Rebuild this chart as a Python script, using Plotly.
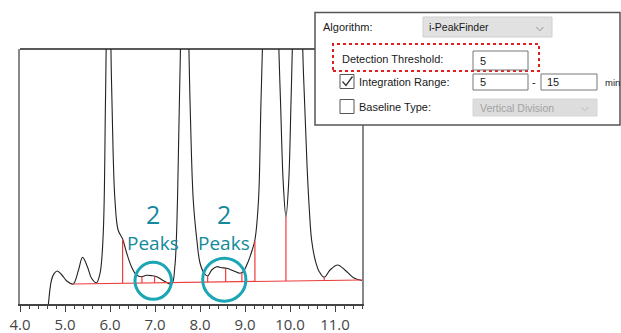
import plotly.graph_objects as go
import numpy as np

# ---------------- data ----------------
rt = [4.62, 4.70, 4.76, 4.83, 4.93, 5.04, 5.18, 5.30, 5.39, 5.50, 5.59, 5.70,
      5.78, 5.85, 5.90, 5.965, 6.03, 6.07, 6.11, 6.18, 6.28, 6.37, 6.48, 6.59,
      6.70, 6.81, 6.93, 7.04, 7.19, 7.37, 7.44, 7.50, 7.55, 7.665, 7.78, 7.85,
      7.93, 8.00, 8.09, 8.17, 8.26, 8.37, 8.48, 8.59, 8.74, 8.89, 8.96, 9.07,
      9.16, 9.22, 9.30, 9.36, 9.565, 9.78, 9.85, 9.91, 9.97, 10.03, 10.16,
      10.30, 10.38, 10.43, 10.48, 10.56, 10.65, 10.76, 10.89, 11.06, 11.22,
      11.41, 11.60]
signal = [-6, 24, 30.7, 33, 29, 23, 20, 34, 46.7, 37, 25.7, 21.3,
          31, 71, 204, 400, 230, 150, 104, 74, 65, 51, 37, 29,
          27.3, 28.7, 28.3, 27.3, 23.3, 20, 37, 104, 220, 420, 200, 104,
          64, 41, 31, 28, 34, 37.3, 36.3, 35.7, 33.3, 30.7, 32.3, 42.3,
          54, 64, 104, 210, 480, 215, 121, 87.3, 121, 215, 420,
          230, 137, 94, 64, 44, 32.3, 26.7, 34, 39, 34,
          26.3, 23.5]

base_rt = [5.18, 11.6]
base_sig = [20, 24]

drop_rt = [5.70, 6.28, 6.71, 6.99, 8.17, 8.57, 8.93, 9.22, 9.91, 10.76]
drop_top = [21.3, 64.7, 27.3, 27.5, 28, 35, 31, 63, 87.5, 26.7]

tick_vals = [4, 5, 6, 7, 8, 9, 10, 11]
tick_text = ["4.0", "5.0", "6.0", "7.0", "8.0", "9.0", "10.0", "11.0"]

groups_rt = [6.96, 8.54]          # centres of the two circled groups
groups_sig = [23.2, 24.3]
groups_rx = [0.405, 0.48]
groups_ry = [18.5, 21.5]
groups_count = ["2", "2"]

# ---------------- figure ----------------
W, H = 621, 333
ML, MR, MT, MB = 20, 259, 49, 29
PW, PH = W - ML - MR, H - MT - MB

def P(xpx, ypx):
    return (xpx - ML) / PW, (H - MB - ypx) / PH

RED = "#EE3B3B"
TEAL = "#1AA6B4"
TEAL_TXT = "#13899B"

fig = go.Figure()

fig.add_trace(go.Scatter(x=rt, y=signal, mode="lines",
                         line=dict(color="#222222", width=1.1, shape="spline"),
                         hoverinfo="skip", showlegend=False))

fig.add_trace(go.Scatter(x=base_rt, y=base_sig, mode="lines",
                         line=dict(color=RED, width=1.2),
                         hoverinfo="skip", showlegend=False))

dx, dy = [], []
for xv, top in zip(drop_rt, drop_top):
    bottom = float(np.interp(xv, base_rt, base_sig))
    dx += [xv, xv, None]
    dy += [bottom, top, None]
fig.add_trace(go.Scatter(x=dx, y=dy, mode="lines",
                         line=dict(color=RED, width=1.2),
                         hoverinfo="skip", showlegend=False))

shapes = []
annotations = []

# circles + labels
for cx, cy, rx, ry, n in zip(groups_rt, groups_sig, groups_rx, groups_ry, groups_count):
    shapes.append(dict(type="circle", xref="x", yref="y",
                       x0=cx - rx, x1=cx + rx, y0=cy - ry, y1=cy + ry,
                       line=dict(color=TEAL, width=3), layer="above"))
    annotations.append(dict(x=cx, y=90, xref="x", yref="y", text=n,
                            showarrow=False, xanchor="center", yanchor="middle",
                            font=dict(family="Open Sans", size=25, color=TEAL_TXT)))
    annotations.append(dict(x=cx, y=61, xref="x", yref="y", text="Peaks",
                            showarrow=False, xanchor="center", yanchor="middle",
                            font=dict(family="Open Sans", size=19, color=TEAL_TXT)))

# top frame line
shapes.append(dict(type="line", xref="paper", yref="paper", x0=0, x1=1, y0=1, y1=1,
                   line=dict(color="#222222", width=1.5), layer="above"))

# ---------------- dialog panel ----------------
def rect(x0, y0, x1, y1, fill="white", line="#666666", width=1, dash="solid"):
    a0, b0 = P(x0, y1)
    a1, b1 = P(x1, y0)
    shapes.append(dict(type="rect", xref="paper", yref="paper",
                       x0=a0, y0=b0, x1=a1, y1=b1, fillcolor=fill,
                       line=dict(color=line, width=width, dash=dash), layer="above"))

def text(xpx, ypx, s, size=11, color="#1a1a1a", anchor="left"):
    a, b = P(xpx, ypx)
    annotations.append(dict(x=a, y=b, xref="paper", yref="paper", text=s,
                            showarrow=False, xanchor=anchor, yanchor="middle",
                            font=dict(family="Liberation Sans, Arial", size=size, color=color)))

rect(315, 12.5, 620, 125, fill="white", line="#555555", width=1.5)
text(321, 27, "Algorithm:")
rect(423, 17, 552, 37, fill="#E1E1E1", line="#CFCFCF")
text(427, 27, "i-PeakFinder", size=10.5)
text(540, 27, "⌵", size=10, color="#666666", anchor="center")

rect(333, 44, 539, 71, fill="rgba(0,0,0,0)", line="#E02020", width=2, dash="dot")
text(340, 59.5, "Detection Threshold:")
rect(473, 51, 528, 70, fill="white", line="#777777")
text(478, 61, "5", size=11)

rect(340, 74.5, 354, 88.5, fill="white", line="#555555")
a0, b0 = P(342.5, 81.5)
a1, b1 = P(346, 85.5)
a2, b2 = P(352.5, 76.5)
shapes.append(dict(type="path", xref="paper", yref="paper",
                   path=f"M {a0},{b0} L {a1},{b1} L {a2},{b2}",
                   line=dict(color="#333333", width=1.3), layer="above"))
text(357, 82, "Integration Range:")
rect(473, 74, 528, 90, fill="white", line="#777777")
text(478, 82, "5", size=11)
text(534, 82, "-", size=11, anchor="center")
rect(541, 74, 597, 90, fill="white", line="#777777")
text(545, 82, "15", size=11)
text(603, 82, "min", size=9.5)

rect(340, 99.5, 354, 113.5, fill="white", line="#555555")
text(357, 106.5, "Baseline Type:")
rect(473, 99, 597, 116, fill="#DDDDDD", line="#D6D6D6")
text(478, 107.5, "Vertical Division", size=10.5, color="#A3A3A3")
text(585, 107, "⌵", size=10, color="#B0B0B0", anchor="center")

fig.update_layout(
    width=W, height=H, autosize=False,
    margin=dict(l=ML, r=MR, t=MT, b=MB, pad=0, autoexpand=False),
    paper_bgcolor="white", plot_bgcolor="white",
    shapes=shapes, annotations=annotations,
    showlegend=False,
    xaxis=dict(range=[4, 11.6], showgrid=False, zeroline=False, automargin=False,
               showline=True, linecolor="#444444", linewidth=1.5,
               ticks="outside", ticklen=6, tickwidth=1.2, tickcolor="#444444",
               tickvals=tick_vals, ticktext=tick_text, ticklabelstandoff=0,
               tickfont=dict(family="Open Sans", size=15, color="#444444"),
               minor=dict(dtick=0.2, tick0=4, ticks="outside", ticklen=3,
                          tickwidth=1, tickcolor="#444444"),
               fixedrange=True),
    yaxis=dict(range=[0, 255], showgrid=False, zeroline=False, automargin=False,
               showline=True, linecolor="#888888", linewidth=2, mirror=True,
               showticklabels=False, ticks="", fixedrange=True),
)

fig.write_html(
    "out.html",
    config={"displayModeBar": False},
    post_script="document.body.style.margin='0';document.body.style.overflow='hidden';",
)
